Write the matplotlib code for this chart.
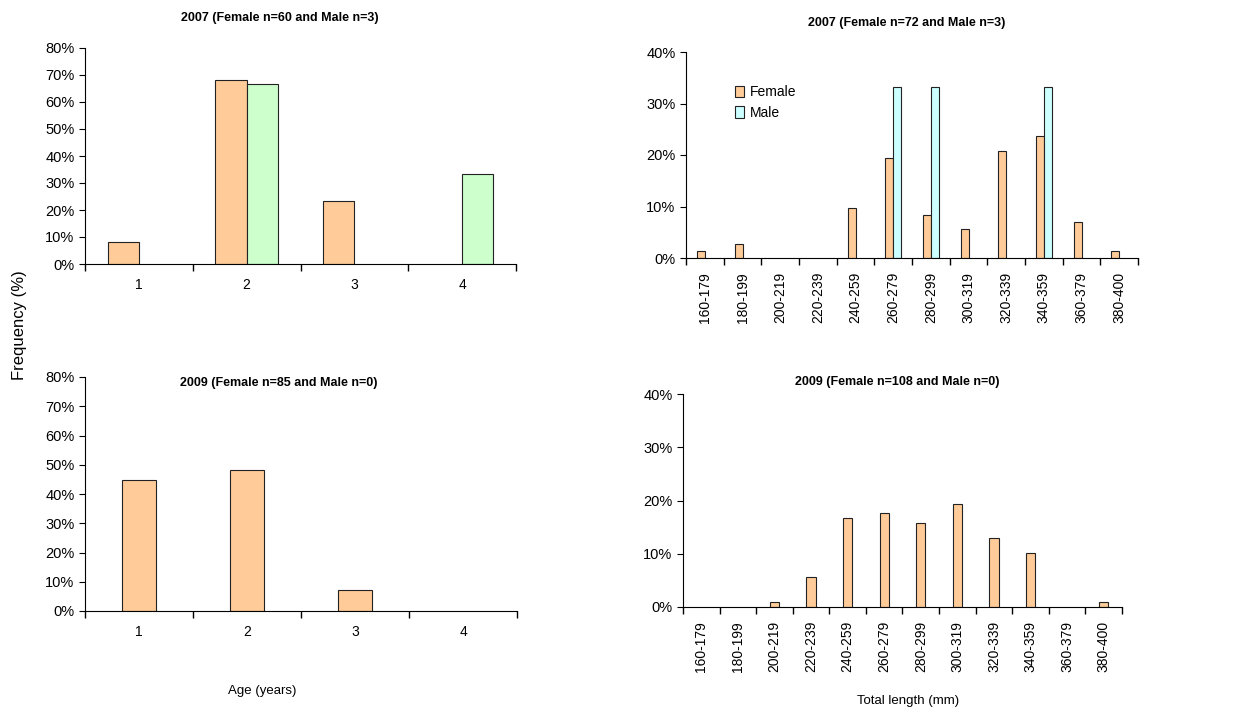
import matplotlib.pyplot as plt
import numpy as np
from matplotlib.ticker import PercentFormatter, FixedLocator

plt.rcParams.update({"font.family": ["Liberation Sans", "DejaVu Sans"], "font.size": 10})

# age classes
ages = ['1', '2', '3', '4']
age07_f = [8.3, 68.3, 23.3, 0]
age07_m = [0, 66.7, 0, 33.3]
age09_f = [44.7, 48.2, 7.1, 0]

# total length classes (mm)
lengths = ['160-179', '180-199', '200-219', '220-239', '240-259', '260-279',
           '280-299', '300-319', '320-339', '340-359', '360-379', '380-400']
len07_f = [1.4, 2.8, 0, 0, 9.7, 19.4, 8.3, 5.6, 20.8, 23.6, 6.9, 1.4]
len07_m = [0, 0, 0, 0, 0, 33.3, 33.3, 0, 0, 33.3, 0, 0]
len09_f = [0, 0, 0.9, 5.6, 16.7, 17.6, 15.7, 19.4, 13.0, 10.2, 0, 0.9]

female = '#FFCC99'
male_age = '#CCFFCC'
male_len = '#CCFFFF'
edge = '#222222'

W, H = 1239, 709
fig = plt.figure(figsize=(W / 100, H / 100), dpi=100)


def px_axes(l, t, r, b):
    return fig.add_axes([l / W, 1 - b / H, (r - l) / W, (b - t) / H])


def style(ax, labels, ymax, ystep, rot=0):
    n = len(labels)
    x = np.arange(n)
    ax.set_xlim(-0.5, n - 0.5)
    ax.set_ylim(0, ymax)
    ax.set_yticks(np.arange(0, ymax + 0.1, ystep))
    ax.yaxis.set_major_formatter(PercentFormatter(decimals=0))
    ax.set_xticks(x)
    ax.set_xticklabels(labels, rotation=rot)
    ax.xaxis.set_minor_locator(FixedLocator(np.arange(-0.5, n, 1.0)))
    ax.tick_params(axis='x', which='major', length=0, pad=10, labelsize=10)
    ax.tick_params(axis='x', which='minor', length=5, width=1)
    ax.tick_params(axis='y', length=4, labelsize=10.5)
    for s in ['top', 'right']:
        ax.spines[s].set_visible(False)
    return x


def bars(ax, x, vals, w, color, **kw):
    ec = [edge if v > 0 else 'none' for v in vals]
    return ax.bar(x, vals, w, color=color, edgecolor=ec, linewidth=0.8, **kw)


# top left
ax1 = px_axes(85, 48, 516, 264)
x = style(ax1, ages, 80, 10)
w = 0.29
bars(ax1, x - w / 2, age07_f, w, female)
bars(ax1, x + w / 2, age07_m, w, male_age)
fig.text(280 / W, 1 - 18 / H, '2007 (Female n=60 and Male n=3)', ha='center', va='center',
         fontsize=9, fontweight='bold')

# top right
ax2 = px_axes(686, 52, 1138, 258)
x = style(ax2, lengths, 40, 10, rot=90)
w = 0.21
bars(ax2, x - w / 2, len07_f, w, female, label='Female')
bars(ax2, x + w / 2, len07_m, w, male_len, label='Male')
leg = ax2.legend(loc='upper left', bbox_to_anchor=(0.08, 0.9), frameon=False, fontsize=10,
                 handlelength=0.7, handleheight=0.9, handletextpad=0.4, labelspacing=0.5)
for h in leg.legend_handles:
    h.set_edgecolor(edge)
fig.text(907 / W, 1 - 23 / H, '2007 (Female n=72 and Male n=3)', ha='center', va='center',
         fontsize=9, fontweight='bold')

# bottom left
ax3 = px_axes(85, 377, 517, 611)
x = style(ax3, ages, 80, 10)
bars(ax3, x, age09_f, 0.32, female)
fig.text(279 / W, 1 - 383 / H, '2009 (Female n=85 and Male n=0)', ha='center', va='center',
         fontsize=9, fontweight='bold')

# bottom right
ax4 = px_axes(683, 394, 1122, 607)
x = style(ax4, lengths, 40, 10, rot=90)
bars(ax4, x, len09_f, 0.25, female)
fig.text(897 / W, 1 - 382 / H, '2009 (Female n=108 and Male n=0)', ha='center', va='center',
         fontsize=9, fontweight='bold')

fig.text(20 / W, 1 - 325 / H, 'Frequency (%)', rotation=90, ha='center', va='center', fontsize=12)
fig.text(262 / W, 1 - 691 / H, 'Age (years)', ha='center', va='center', fontsize=9.5)
fig.text(908 / W, 1 - 701 / H, 'Total length (mm)', ha='center', va='center', fontsize=9.5)

fig.savefig('out.png', dpi=100)
